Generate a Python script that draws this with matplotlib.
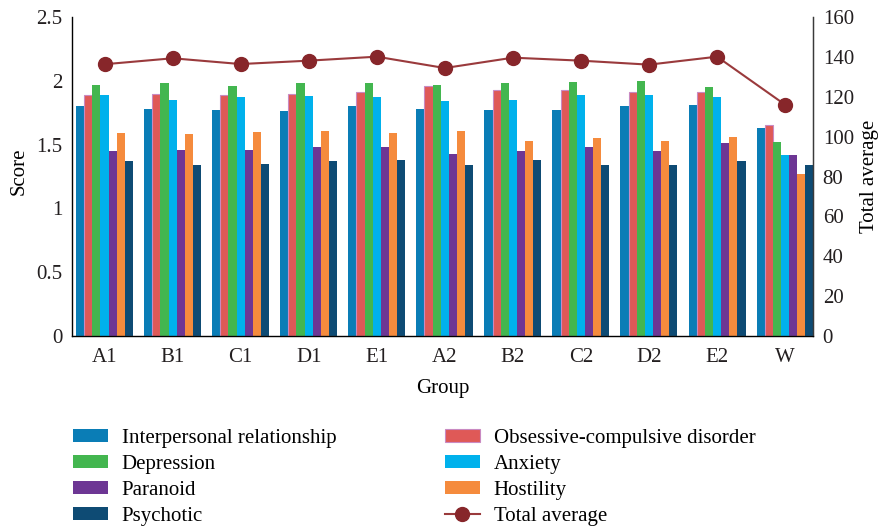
"""
Grouped bar chart of symptom scores with total average on a second axis
"""

import matplotlib
matplotlib.use('Agg')
import matplotlib.pyplot as plt
import numpy as np

plt.rcParams['font.family'] = ['Liberation Serif', 'DejaVu Serif']
plt.rcParams['font.size'] = 15

groups = ['A1', 'B1', 'C1', 'D1', 'E1', 'A2', 'B2', 'C2', 'D2', 'E2', 'W']

interpersonal = [1.80, 1.78, 1.77, 1.76, 1.80, 1.78, 1.77, 1.77, 1.80, 1.81, 1.63]
obsessive = [1.89, 1.90, 1.89, 1.90, 1.91, 1.96, 1.93, 1.93, 1.91, 1.91, 1.65]
depression = [1.97, 1.98, 1.96, 1.98, 1.98, 1.97, 1.98, 1.99, 2.00, 1.95, 1.52]
anxiety = [1.89, 1.85, 1.87, 1.88, 1.87, 1.84, 1.85, 1.89, 1.89, 1.87, 1.42]
paranoid = [1.45, 1.46, 1.46, 1.48, 1.48, 1.43, 1.45, 1.48, 1.45, 1.51, 1.42]
hostility = [1.59, 1.58, 1.60, 1.61, 1.59, 1.61, 1.53, 1.55, 1.53, 1.56, 1.27]
psychotic = [1.37, 1.34, 1.35, 1.37, 1.38, 1.34, 1.38, 1.34, 1.34, 1.37, 1.34]
total_average = [136.3, 139.3, 136.4, 138.1, 140.1, 134.4, 139.6, 138.1, 136.1, 140.1, 116.0]

series = [
    ('Interpersonal relationship', interpersonal, '#0A7DB6', None),
    ('Obsessive-compulsive disorder', obsessive, '#DF5957', '#C98AC2'),
    ('Depression', depression, '#43B64F', None),
    ('Anxiety', anxiety, '#00B1EC', None),
    ('Paranoid', paranoid, '#6D3694', None),
    ('Hostility', hostility, '#F58B3D', None),
    ('Psychotic', psychotic, '#0E4B74', None),
]

fig = plt.figure(figsize=(8.82, 5.31), dpi=100)
ax = fig.add_axes([72 / 882, 1 - 336 / 531, (813 - 72) / 882, (336 - 17) / 531])

x = np.arange(len(groups))
group_w = 0.838
bar_w = group_w / len(series)
handles = {}
for i, (name, vals, color, edge) in enumerate(series):
    offs = -group_w / 2 + (i + 0.5) * bar_w
    b = ax.bar(x + offs, vals, bar_w, color=color,
               edgecolor=edge if edge else color, linewidth=0.8 if edge else 0,
               label=name)
    handles[name] = b

ax.set_xlim(-0.478, 10.41)
ax.set_ylim(0, 2.5)
ax.set_yticks([0, 0.5, 1, 1.5, 2, 2.5])
ax.set_yticklabels(['0', '0.5', '1', '1.5', '2', '2.5'])
ax.set_xticks(x)
ax.set_xticklabels(groups)
ax.tick_params(axis='y', length=0, pad=7, colors='#231F20')
ax.tick_params(axis='x', length=0, pad=9, colors='#231F20')
ax.set_xlabel('Group', labelpad=8)
ax.set_ylabel('Score')
ax.yaxis.set_label_coords(-0.058, 0.516)
ax.spines['top'].set_visible(False)
for s in ['left', 'bottom', 'right']:
    ax.spines[s].set_color('#3A3A3A')
    ax.spines[s].set_linewidth(1.0)

ax2 = ax.twinx()
line, = ax2.plot(x, total_average, color='#9A3A3C', linewidth=1.5,
                 marker='o', markersize=10, markerfacecolor='#87262A',
                 markeredgecolor='#87262A', label='Total average')
ax2.set_ylim(0, 160)
ax2.set_yticks(range(0, 161, 20))
ax2.tick_params(axis='y', length=0, pad=7, colors='#231F20')
ax2.set_ylabel('Total average', labelpad=4)
ax2.spines['top'].set_visible(False)
ax2.spines['right'].set_color('#3A3A3A')

order = ['Interpersonal relationship', 'Depression', 'Paranoid', 'Psychotic',
         'Obsessive-compulsive disorder', 'Anxiety', 'Hostility']
h = [handles[o] for o in order] + [line]
labels = order + ['Total average']
fig.legend(h, labels, ncol=2, frameon=False, loc='upper left',
           bbox_to_anchor=(54 / 882, 1 - 410 / 531), handlelength=1.7,
           handleheight=0.55, handletextpad=0.65, columnspacing=5.2,
           labelspacing=0.34)

fig.savefig('out.png', dpi=100)
